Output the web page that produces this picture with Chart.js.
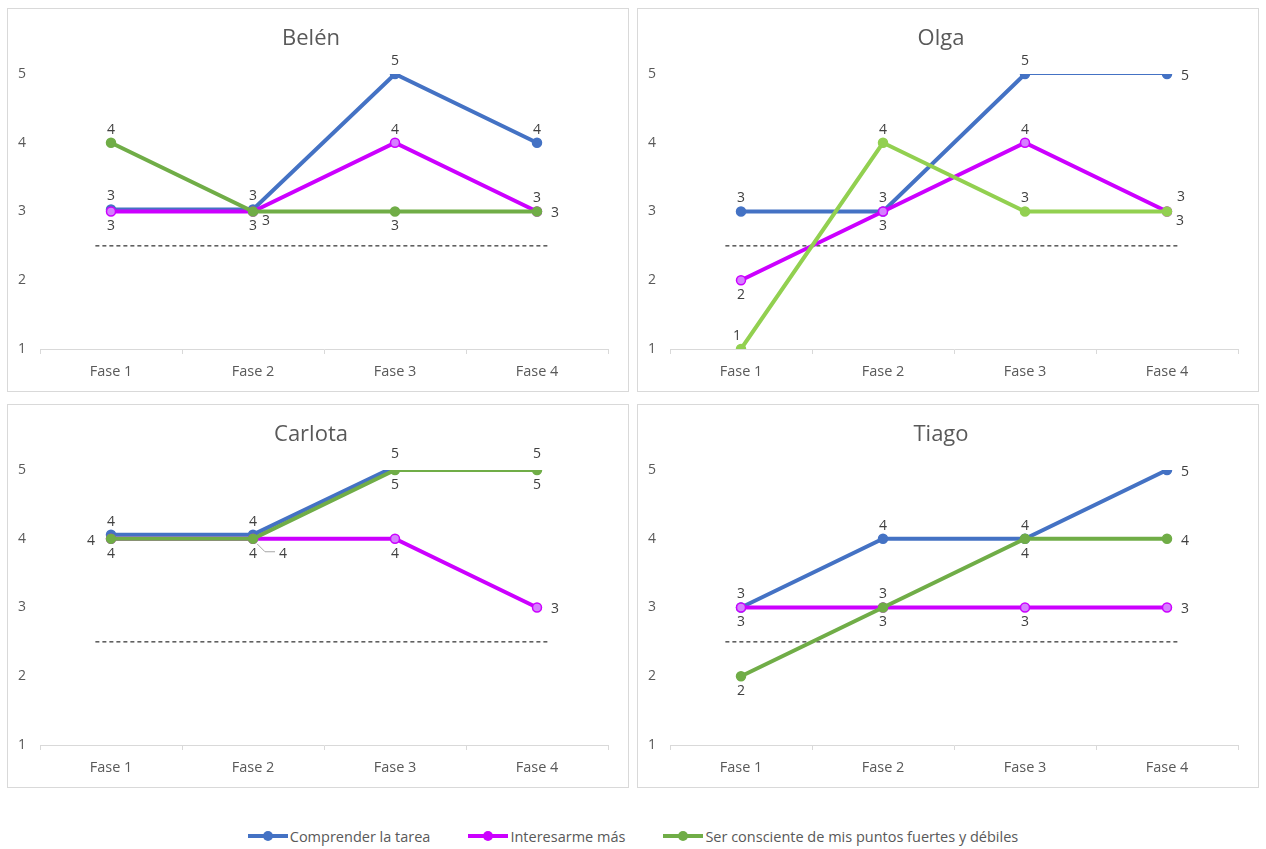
<!DOCTYPE html>
<html>
<head>
<meta charset="utf-8">
<script src="https://cdn.jsdelivr.net/npm/chart.js@4.4.0/dist/chart.umd.min.js"></script>
<style>
body{margin:0;background:#fff;width:1266px;height:849px;position:relative;overflow:hidden;font-family:"Open Sans",Lato,sans-serif}
.panel{position:absolute;width:620px;height:382px;border:1px solid #d9d9d9;background:#fff}
.panel canvas{display:block}
#legend{position:absolute;left:0;right:0;top:826px;display:flex;justify-content:center;gap:38px;font-size:14.5px;color:#595959}
#legend .item{display:flex;align-items:center;height:20px}
#legend .sw{position:relative;width:40px;height:4px;margin-right:2px}
#legend .sw b{position:absolute;left:15px;top:-3px;width:10px;height:10px;border-radius:50%}
</style>
</head>
<body>
<div class="panel" style="left:7px;top:8px"><canvas id="c0" width="620" height="382"></canvas></div>
<div class="panel" style="left:637px;top:8px"><canvas id="c1" width="620" height="382"></canvas></div>
<div class="panel" style="left:7px;top:404px"><canvas id="c2" width="620" height="382"></canvas></div>
<div class="panel" style="left:637px;top:404px"><canvas id="c3" width="620" height="382"></canvas></div>
<div id="legend"></div>
<script>
// categorias y series
var fases = ['Fase 1', 'Fase 2', 'Fase 3', 'Fase 4'];
var series = ['Comprender la tarea', 'Interesarme más', 'Ser consciente de mis puntos fuertes y débiles'];
var alumnos = ['Belén', 'Olga', 'Carlota', 'Tiago'];

// valores (las lineas superpuestas van un poco desplazadas, como en el original)
var belenComprender = [3.03, 3.03, 5, 4];
var belenInteres = [3, 3, 4, 3];
var belenConsciente = [4, 3, 3, 3];

var olgaComprender = [3, 3, 5, 5];
var olgaInteres = [2, 3, 4, 3];
var olgaConsciente = [1, 4, 3, 3];

var carlotaComprender = [4.06, 4.06, 5.05, 5.05];
var carlotaInteres = [4, 4, 4, 3];
var carlotaConsciente = [4, 4, 5, 5];

var tiagoComprender = [3, 4, 4, 5];
var tiagoInteres = [3, 3, 3, 3];
var tiagoConsciente = [2, 3, 4, 4];

var yTicks = [1, 2, 3, 4, 5];
var umbral = 2.5;

var datos = [
    [belenComprender, belenInteres, belenConsciente],
    [olgaComprender, olgaInteres, olgaConsciente],
    [carlotaComprender, carlotaInteres, carlotaConsciente],
    [tiagoComprender, tiagoInteres, tiagoConsciente]
];

// donde va cada etiqueta de dato (a=arriba, b=abajo, r=derecha ...)
var posiciones = [
    [['a','a','a','a'], ['b','b','a','a'], ['a','br','b','r']],
    [['a','a','a','r'], ['b','b','a','br'], ['al','a','a','ar']],
    [['a','a','a','a'], ['b','b','b','r'], ['l','rl','b','b']],
    [['a','a','a','r'], ['b','b','b','r'], ['b','a','b','r']]
];

var colores = ['#4472c4', '#cc00ff', '#70ad47'];
var verdeClaro = '#92d050';   // Olga usa otro verde
var puntoMagenta = '#d580ff';
var fuente = '"Open Sans", Lato, sans-serif';

var offsets = {
    a: [0, -13], b: [0, 15], r: [18, 2], l: [-20, 2],
    br: [13, 10], ar: [14, -14], al: [-4, -13], rl: [30, 15]
};

var etiquetas = {
    id: 'etiquetas',
    afterDatasetsDraw: function (chart) {
        var ctx = chart.ctx;
        ctx.save();
        ctx.font = '14px ' + fuente;
        ctx.fillStyle = '#404040';
        ctx.textAlign = 'center';
        ctx.textBaseline = 'middle';
        chart.data.datasets.forEach(function (ds, i) {
            if (!ds.posLabels) return;
            var meta = chart.getDatasetMeta(i);
            meta.data.forEach(function (pt, j) {
                var p = ds.posLabels[j];
                var o = offsets[p];
                var x = pt.x + o[0], y = pt.y + o[1];
                if (p === 'rl') {
                    ctx.strokeStyle = '#a6a6a6';
                    ctx.lineWidth = 1;
                    ctx.beginPath();
                    ctx.moveTo(pt.x + 4, pt.y + 5);
                    ctx.lineTo(pt.x + 12, pt.y + 13);
                    ctx.lineTo(pt.x + 22, pt.y + 13);
                    ctx.stroke();
                }
                ctx.fillText(String(Math.round(ds.data[j])), x, y);
            });
        });
        ctx.restore();
    }
};

var lineaUmbral = {
    id: 'lineaUmbral',
    beforeDatasetsDraw: function (chart) {
        var xs = chart.scales.x, ys = chart.scales.y;
        var ctx = chart.ctx;
        var y = ys.getPixelForValue(umbral);
        ctx.save();
        ctx.strokeStyle = '#000';
        ctx.lineWidth = 1;
        ctx.setLineDash([4, 3]);
        ctx.beginPath();
        ctx.moveTo(xs.getPixelForValue(-0.11), y);
        ctx.lineTo(xs.getPixelForValue(3.09), y);
        ctx.stroke();
        ctx.restore();
    }
};

function hacerGrafico(k) {
    var datasets = series.map(function (nombre, i) {
        var color = colores[i];
        if (k === 1 && i === 2) color = verdeClaro;
        var ds = {
            label: nombre,
            data: datos[k][i],
            borderColor: color,
            backgroundColor: color,
            pointBackgroundColor: i === 1 ? puntoMagenta : color,
            pointBorderColor: color,
            pointBorderWidth: 1.5,
            pointRadius: 4.5,
            borderWidth: 4,
            tension: 0,
            order: 2 - i,
            posLabels: posiciones[k][i]
        };
        // en Olga el tramo Fase 3 - Fase 4 de la serie azul es fino
        if (k === 1 && i === 0) {
            ds.segment = {
                borderWidth: function (c) { return c.p0DataIndex === 2 ? 2 : 4; }
            };
        }
        return ds;
    });

    new Chart(document.getElementById('c' + k), {
        type: 'line',
        data: { labels: fases, datasets: datasets },
        options: {
            responsive: false,
            animation: false,
            layout: { padding: { left: 6, right: 20, top: 0, bottom: 0 } },
            plugins: {
                legend: { display: false },
                tooltip: { enabled: false },
                title: {
                    display: true,
                    text: alumnos[k],
                    color: '#595959',
                    font: { family: fuente, size: 22, weight: 'normal' },
                    padding: { top: 17, bottom: 21.6 }
                }
            },
            scales: {
                x: {
                    offset: true,
                    grid: { display: true, offset: true, drawOnChartArea: false, drawTicks: true, tickLength: 5, color: '#d9d9d9' },
                    border: { display: true, color: '#d9d9d9', width: 1 },
                    ticks: { color: '#595959', padding: 9, font: { family: fuente, size: 14.5 } },
                    afterFit: function (s) { s.height = 42; }
                },
                y: {
                    min: yTicks[0],
                    max: yTicks[yTicks.length - 1],
                    grid: { display: false, drawTicks: false },
                    border: { display: false },
                    ticks: {
                        stepSize: 1,
                        color: '#595959',
                        padding: 14,
                        font: { family: fuente, size: 14 },
                        callback: function (v) { return yTicks.indexOf(v) >= 0 ? String(v) : ''; }
                    },
                    afterFit: function (s) { s.width = 26; }
                }
            }
        },
        plugins: [lineaUmbral, etiquetas]
    });
}

for (var k = 0; k < alumnos.length; k++) hacerGrafico(k);

// leyenda comun
var leg = document.getElementById('legend');
series.forEach(function (nombre, i) {
    var item = document.createElement('div');
    item.className = 'item';
    var sw = document.createElement('span');
    sw.className = 'sw';
    sw.style.background = colores[i];
    var dot = document.createElement('b');
    dot.style.background = colores[i];
    sw.appendChild(dot);
    item.appendChild(sw);
    item.appendChild(document.createTextNode(nombre));
    leg.appendChild(item);
});
</script>
</body>
</html>
